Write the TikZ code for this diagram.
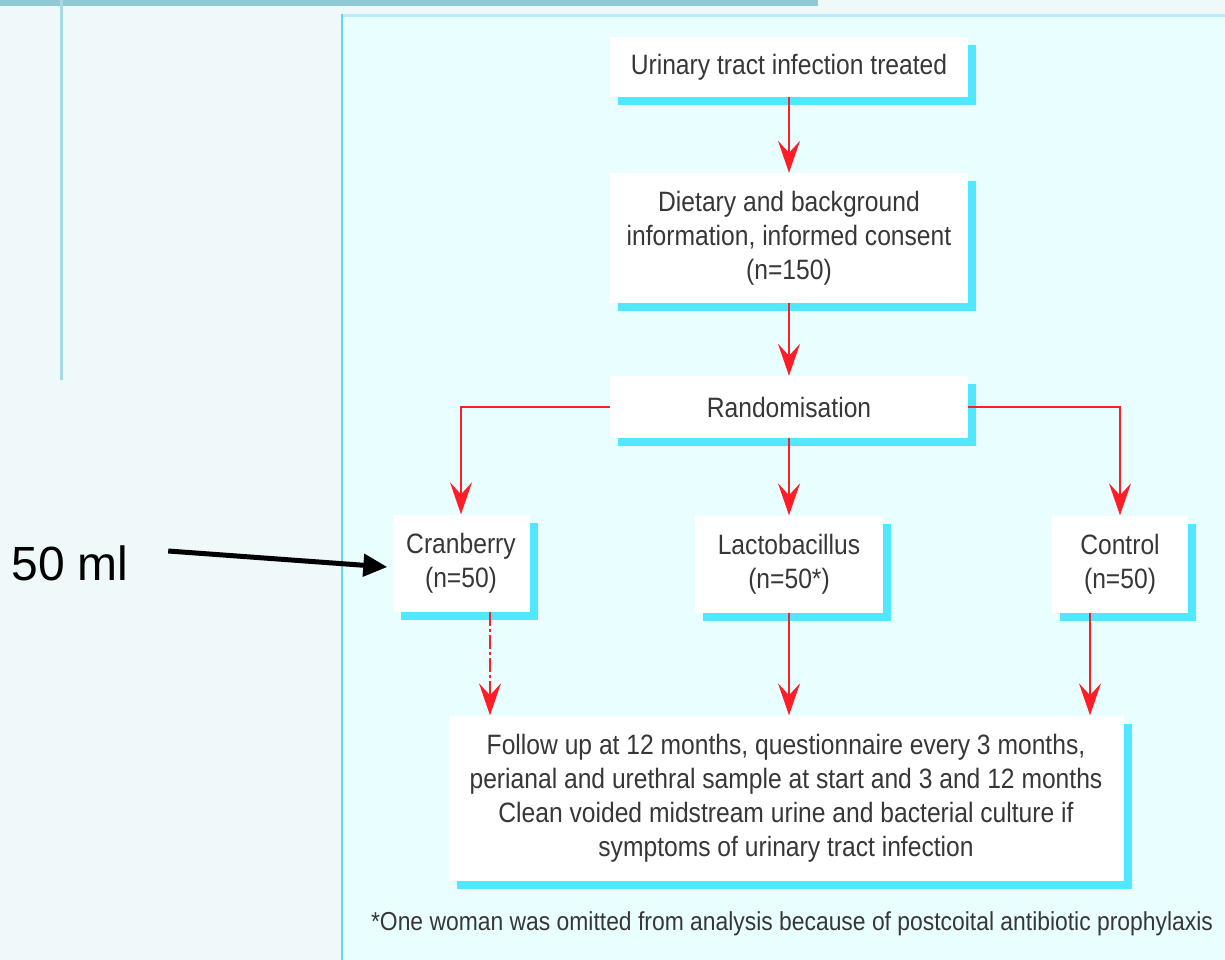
\documentclass[tikz,border=0pt]{standalone}
\usepackage{fontspec}
\setmainfont{Liberation Sans}
\newfontfamily\narrowsf{Liberation Sans}[FakeStretch=0.88]
\usepackage{tikz}
\usetikzlibrary{positioning,arrows.meta,shadows}

\definecolor{outerbg}{RGB}{240,249,250}
\definecolor{panelbg}{RGB}{233,254,255}
\definecolor{panelline}{RGB}{95,215,255}
\definecolor{paneltop}{RGB}{185,235,250}
\definecolor{teal}{RGB}{143,201,211}
\definecolor{rulecol}{RGB}{168,216,224}
\definecolor{boxshade}{RGB}{80,232,255}
\definecolor{txtgray}{RGB}{55,55,55}
\definecolor{arrred}{RGB}{255,30,40}

\begin{document}
\begin{tikzpicture}[x=1pt, y=-1pt,
  box/.style={fill=white, inner sep=0pt, align=center, text=txtgray,
              font=\narrowsf\fontsize{28}{34}\selectfont,
              drop shadow={shadow xshift=8pt, shadow yshift=-8pt,
                           fill=boxshade, opacity=1}},
  arr/.style={-{Stealth[length=32pt, width=22pt, inset=12pt]},
              draw=arrred, line width=1.3pt},
  blk/.style={-{Triangle[length=24pt, width=22pt]}, line width=5pt},
  note/.style={font=\narrowsf\fontsize{26}{30}\selectfont, text=txtgray}
]
  % Background, slide rules and panel
  \fill[outerbg] (0,0) rectangle (1225,960);
  \useasboundingbox (0,0) rectangle (1225,960);
  \fill[teal] (0,0) rectangle (818,6);
  \fill[rulecol] (59.5,0) rectangle (62.5,380);
  \fill[panelbg] (341,14) rectangle (1225,960);
  \draw[paneltop, line width=3pt] (341,15.5) -- (1225,15.5);
  \draw[panelline, line width=2pt] (342,960) -- (342,14);

  % Main column
  \node[box, minimum width=358pt, minimum height=60pt] (treat) at (789,67)
    {Urinary tract infection treated};
  \node[box, minimum width=358pt, minimum height=130pt] (diet) at (789,238)
    {Dietary and background\\information, informed consent\\(n=150)};
  \node[box, minimum width=358pt, minimum height=62pt] (rand) at (789,407)
    {Randomisation};

  % Row of groups
  \node[box, minimum width=137pt, minimum height=97pt] (cran) at (461,563)
    {Cranberry\\(n=50)};
  \node[box, minimum width=188pt, minimum height=97pt] (lacto) at (789,564)
    {Lactobacillus\\(n=50*)};
  \node[box, minimum width=136pt, minimum height=97pt] (ctrl) at (1120,564)
    {Control\\(n=50)};

  % Follow up and footnote
  \node[box, minimum width=675pt, minimum height=165pt] (follow) at (786,798)
    {Follow up at 12 months, questionnaire every 3 months,\\
     perianal and urethral sample at start and 3 and 12 months\\
     Clean voided midstream urine and bacterial culture if\\
     symptoms of urinary tract infection};
  \node[note] (foot) at (792,924)
    {*One woman was omitted from analysis because of postcoital antibiotic prophylaxis};

  % Red connectors
  \draw[arr] (treat) -- (diet);
  \draw[arr] (diet) -- (rand);
  \draw[arr] (rand.west) -| (cran.north);
  \draw[arr] (rand) -- (lacto);
  \draw[arr] (rand.east) -| (ctrl.north);
  \draw[arr, dash pattern=on 14pt off 3pt on 3pt off 3pt]
    ([xshift=29pt]cran.south) -- ([xshift=29pt]cran.south |- follow.north);
  \draw[arr] (lacto) -- (lacto |- follow.north);
  \draw[arr] ([xshift=-30pt]ctrl.south) -- ([xshift=-30pt]ctrl.south |- follow.north);

  % Side label
  \node[font=\fontsize{48}{56}\selectfont] (ml) at (70,563) {50 ml};
  \draw[blk] ([xshift=36pt, yshift=12pt]ml.east) -- ([xshift=-5pt, yshift=-4pt]cran.west);
\end{tikzpicture}
\end{document}
